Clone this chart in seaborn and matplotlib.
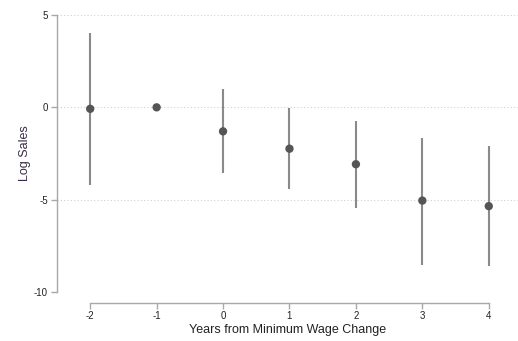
import numpy as np
import pandas as pd
import seaborn as sns
import matplotlib
matplotlib.use('Agg')
import matplotlib.pyplot as plt

# event-study estimates
years = [-2, -1, 0, 1, 2, 3, 4]
coef = [-0.08, 0.0, -1.3, -2.24, -3.08, -5.05, -5.35]
ci_low = [-4.2, 0.0, -3.57, -4.43, -5.46, -8.54, -8.6]
ci_high = [4.05, 0.0, 0.97, -0.03, -0.73, -1.68, -2.1]

df = pd.DataFrame({'year': years, 'coef': coef, 'lo': ci_low, 'hi': ci_high})
ci = df[df['year'] != -1]

sns.set_style('white')
plt.rcParams['font.family'] = ['Liberation Sans', 'DejaVu Sans']
plt.rcParams['axes.unicode_minus'] = False

fig = plt.figure(figsize=(5.18, 3.41), dpi=100)
ax = fig.add_axes([0.110, 0.1437, 0.890, 0.8123])

ax.vlines(ci['year'], ci['lo'], ci['hi'], color='#8a8a8a', lw=1.5, zorder=2)
sns.scatterplot(data=df, x='year', y='coef', ax=ax, color='#555555',
                s=36, edgecolor='none', zorder=3)

ax.set_xlim(-2.5, 4.44)
ax.set_ylim(-10, 5)
ax.set_xticks(years)
ax.set_yticks([-10, -5, 0, 5])
ax.yaxis.grid(True, ls=(0, (1, 2)), color='#d0d0d0', lw=0.8)
ax.xaxis.grid(False)

for s in ['top', 'right']:
    ax.spines[s].set_visible(False)
ax.spines['bottom'].set_position(('outward', 8))
ax.spines['bottom'].set_bounds(-2, 4)
for s in ['left', 'bottom']:
    ax.spines[s].set_color('#a8a8a8')
    ax.spines[s].set_linewidth(1.0)

ax.tick_params(axis='both', which='major', direction='out', length=4,
               width=1.0, color='#a8a8a8', labelsize=7, labelcolor='#222222',
               pad=2.5, left=True, bottom=True)
ax.tick_params(axis='x', pad=1.5)

ax.set_xlabel('Years from Minimum Wage Change', fontsize=9, color='#222222', labelpad=2)
ax.set_ylabel('Log Sales', fontsize=9, color='#3a2c48', labelpad=2)

fig.savefig('out.png', dpi=100)
